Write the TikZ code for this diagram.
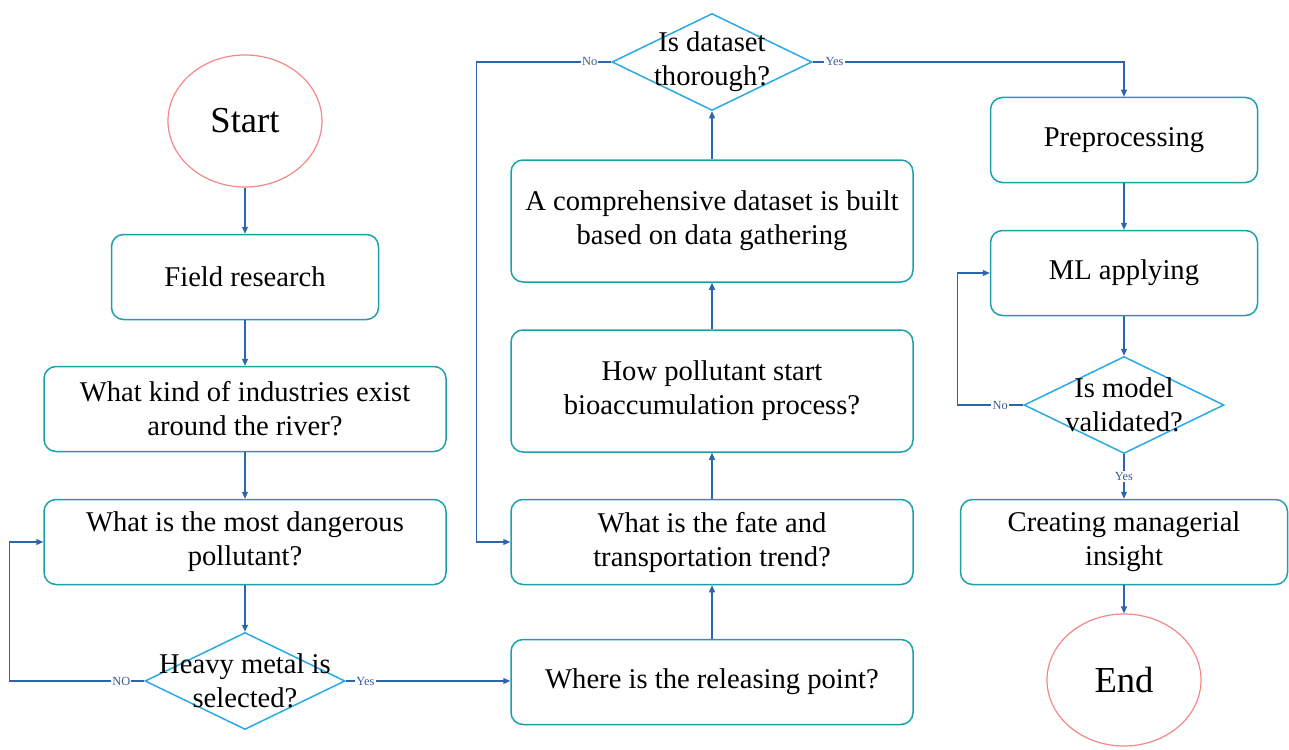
\documentclass[tikz,border=0pt]{standalone}
\usepackage{fontspec}
\setmainfont{Liberation Serif}
\usetikzlibrary{shapes.geometric,arrows.meta}
\definecolor{boxcol}{RGB}{30,160,170}
\definecolor{diacol}{RGB}{40,170,230}
\definecolor{ellcol}{RGB}{245,135,135}
\definecolor{arrcol}{RGB}{46,100,170}
\definecolor{lblcol}{RGB}{60,90,150}
\begin{document}
\begin{tikzpicture}[x=0.5pt, y=-0.5pt,
    txt/.style={font=\fontsize{14.3}{17}\selectfont, align=center},
    box/.style={txt, draw=boxcol, line width=0.75pt, rounded corners=6pt, inner sep=0pt, minimum width=133.5pt, minimum height=42.5pt},
    wide/.style={box, minimum width=201pt},
    tall/.style={wide, minimum height=61pt},
    term/.style={ellipse, draw=ellcol, line width=0.6pt, minimum width=77pt, minimum height=66pt, font=\fontsize{18.3}{20}\selectfont},
    dia/.style={diamond, draw=diacol, line width=0.75pt, minimum width=100pt, minimum height=48.5pt, inner sep=0pt},
    arr/.style={draw=arrcol, line width=0.6pt, -{Triangle[length=3.5pt,width=3pt]}},
    lbl/.style={font=\fontsize{6.2}{7}\selectfont, text=lblcol, fill=white, inner sep=0.6pt}]
    \useasboundingbox (0,0) rectangle (1289,749);
    % left column
    \node (start) [term] at (245,121) {Start};
    \node (field) [box] at (245,277) {Field research};
    \node (indus) [wide] at (245,409) {What kind of industries exist\\around the river?};
    \node (danger) [wide] at (245,542) {What is the most dangerous\\pollutant?};
    \node (heavy) [dia, label={[txt]center:Heavy metal is\\selected?}] at (245,681) {};
    % middle column
    \node (where) [wide] at (712,682) {Where is the releasing point?};
    \node (fate) [wide] at (712,542) {What is the fate and\\transportation trend?};
    \node (bio) [tall] at (712,391) {How pollutant start\\bioaccumulation process?};
    \node (data) [tall] at (712,221) {A comprehensive dataset is built\\based on data gathering};
    \node (thor) [dia, label={[txt]center:Is dataset\\thorough?}] at (712,62) {};
    % right column
    \node (pre) [box] at (1124,140) {Preprocessing};
    \node (ml) [box] at (1124,273) {ML applying};
    \node (valid) [dia, label={[txt]center:Is model\\validated?}] at (1124,405) {};
    \node (insight) [box, minimum width=163.5pt] at (1124,542) {Creating managerial\\insight};
    \node (end) [term] at (1124,680) {End};

    \draw[arr] (start) -- (field);
    \draw[arr] (field) -- (indus);
    \draw[arr] (indus) -- (danger);
    \draw[arr] (danger) -- (heavy);
    \draw[arr] (heavy.west) -- node[lbl, pos=0.17] {NO} ++(-135,0) |- (danger.west);
    \draw[arr] (heavy.east) -- node[lbl, pos=0.12] {Yes} (where.west |- heavy.east);
    \draw[arr] (where) -- (fate);
    \draw[arr] (fate) -- (bio);
    \draw[arr] (bio) -- (data);
    \draw[arr] (data) -- (thor);
    \draw[arr] (thor.west) -- node[lbl, pos=0.16] {No} ++(-135,0) |- (fate.west);
    \draw[arr] (thor.east) -| node[lbl, pos=0.035] {Yes} (pre.north);
    \draw[arr] (pre) -- (ml);
    \draw[arr] (ml) -- (valid);
    \draw[arr] (valid.west) -- node[lbl, pos=0.35] {No} ++(-66,0) |- (ml.west);
    \draw[arr] (valid) -- node[lbl, pos=0.5] {Yes} (insight);
    \draw[arr] (insight) -- (end);
\end{tikzpicture}
\end{document}
